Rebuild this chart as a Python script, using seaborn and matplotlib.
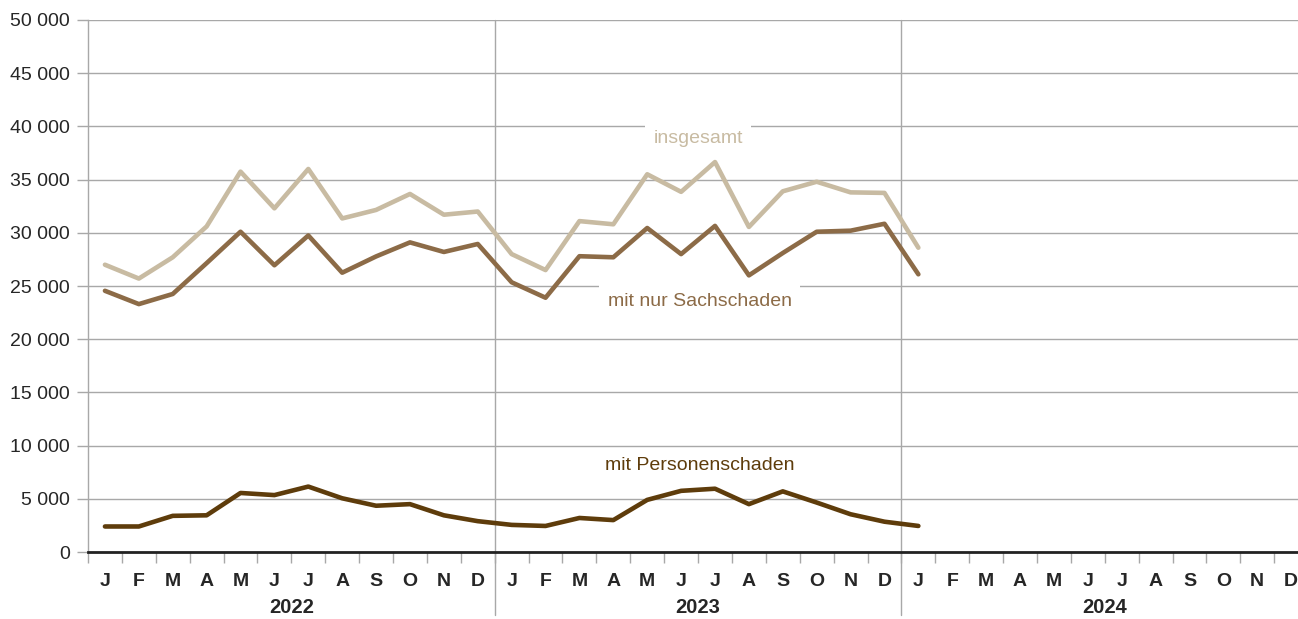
import matplotlib
matplotlib.use('Agg')
import matplotlib.pyplot as plt
import seaborn as sns
import numpy as np
import pandas as pd

# monthly values, Jan 2022 .. Jan 2024
months = ['J', 'F', 'M', 'A', 'M', 'J', 'J', 'A', 'S', 'O', 'N', 'D']
years = ['2022', '2023', '2024']
insgesamt = [27000, 25700, 27700, 30600, 35750, 32300, 36000, 31350, 32150, 33650, 31700, 32000,
             28000, 26500, 31100, 30800, 35500, 33850, 36650, 30550, 33900, 34800, 33800, 33750,
             28600]
sachschaden = [24550, 23300, 24250, 27150, 30100, 26950, 29750, 26250, 27780, 29100, 28200, 28950,
               25350, 23900, 27800, 27700, 30450, 28000, 30650, 26000, 28100, 30100, 30200, 30850,
               26100]
personenschaden = [2400, 2400, 3400, 3450, 5550, 5350, 6150, 5050, 4350, 4500, 3450, 2900,
                   2550, 2450, 3200, 3000, 4900, 5750, 5950, 4500, 5700, 4650, 3550, 2850,
                   2450]
y_ticks = list(range(0, 50001, 5000))

c_ins = '#C8BBA2'
c_sach = '#8C6B47'
c_pers = '#5E3C0B'
grid_c = '#A8A8A8'
text_c = '#262626'

sns.set_style('white')
plt.rcParams['font.family'] = ['Liberation Sans', 'DejaVu Sans']

df = pd.DataFrame({
    'pos': np.arange(len(insgesamt)) + 0.5,
    'insgesamt': insgesamt,
    'sach': sachschaden,
    'pers': personenschaden,
})

fig = plt.figure(figsize=(12.98, 6.19), dpi=100)
ax = fig.add_axes([0.0678, 0.1082, 0.94, 0.8595])

sns.lineplot(data=df, x='pos', y='insgesamt', color=c_ins, linewidth=3.3, ax=ax, zorder=3)
sns.lineplot(data=df, x='pos', y='sach', color=c_sach, linewidth=3.3, ax=ax, zorder=3)
sns.lineplot(data=df, x='pos', y='pers', color=c_pers, linewidth=3.3, ax=ax, zorder=3)

ax.set_xlim(0, 36)
ax.set_ylim(0, 50000)
ax.set_xlabel('')
ax.set_ylabel('')

# y axis
ax.set_yticks(y_ticks)
ax.set_yticklabels([f'{v:,}'.replace(',', ' ') for v in y_ticks])
ax.yaxis.grid(True, color=grid_c, linewidth=1)
ax.tick_params(axis='y', left=True, length=8, width=1, color=grid_c, pad=5, labelsize=14, labelcolor=text_c)

# x axis: separators at month boundaries, labels in the middle
ax.set_xticks(np.arange(0, 37))
ax.set_xticklabels([])
ax.set_xticks(np.arange(36) + 0.5, minor=True)
ax.set_xticklabels(months * 3, minor=True, fontweight='bold')
ax.tick_params(axis='x', which='major', bottom=True, length=8, width=1, color=grid_c)
ax.tick_params(axis='x', which='minor', bottom=True, length=0, pad=15, labelsize=14, labelcolor=text_c)

for s in ['top', 'right']:
    ax.spines[s].set_visible(False)
ax.spines['left'].set_color(grid_c)
ax.spines['left'].set_linewidth(1)
ax.spines['bottom'].set_color('#222222')
ax.spines['bottom'].set_linewidth(2)
ax.spines['bottom'].set_zorder(4)

trans = ax.get_xaxis_transform()
for x in [12, 24]:
    ax.plot([x, x], [-0.118, 1], transform=trans, color=grid_c, linewidth=1, clip_on=False, zorder=1)
for i, yr in enumerate(years):
    ax.text(6 + 12 * i, -0.105, yr, transform=trans, ha='center', va='center',
            fontsize=14.5, fontweight='bold', color=text_c)

box = dict(facecolor='white', edgecolor='none', pad=6)
ax.text(18, 38900, 'insgesamt', ha='center', va='center', fontsize=14, color=c_ins, bbox=box, zorder=5)
ax.text(18.05, 23500, 'mit nur Sachschaden', ha='center', va='center', fontsize=14, color=c_sach, bbox=box, zorder=5)
ax.text(18.05, 8100, 'mit Personenschaden', ha='center', va='center', fontsize=14, color=c_pers, bbox=box, zorder=5)

fig.savefig('out.png', dpi=100)
